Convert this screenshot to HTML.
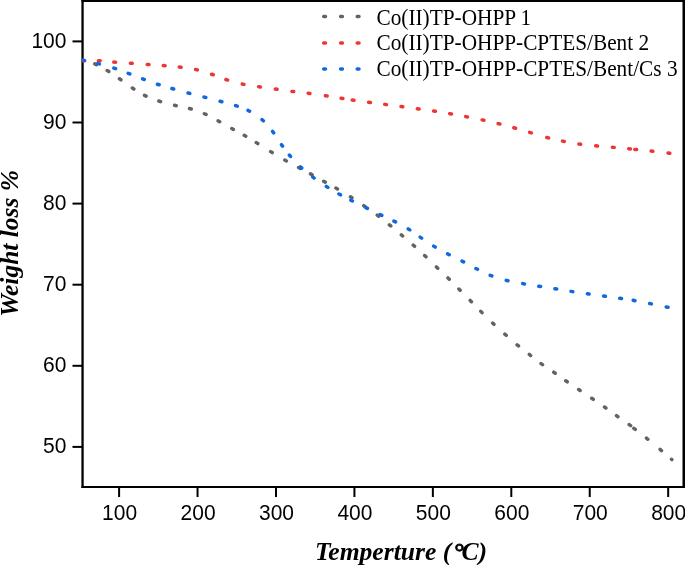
<!DOCTYPE html>
<html><head><meta charset="utf-8"><title>TGA</title>
<style>html,body{margin:0;padding:0;background:#fff;}svg{display:block;}.sans{font-family:"Liberation Sans",Arial,sans-serif;}.serif{font-family:"Liberation Serif","Times New Roman",serif;}</style></head>
<body><svg width="685" height="565" viewBox="0 0 685 565">
<rect width="685" height="565" fill="#fff"/>
<g stroke="#000" stroke-width="2" fill="none">
<path d="M82.55 0V488" stroke-width="2.3"/><path d="M81.5 487H685M81.5 1H685" stroke-width="2.1"/>
<path d="M684 0V488" stroke-width="3"/>
<path d="M119.10 487V497"/>
<path d="M197.54 487V497"/>
<path d="M275.98 487V497"/>
<path d="M354.42 487V497"/>
<path d="M432.86 487V497"/>
<path d="M511.30 487V497"/>
<path d="M589.74 487V497"/>
<path d="M668.18 487V497"/>
<path d="M72.5 41.40H82.5"/>
<path d="M72.5 122.50H82.5"/>
<path d="M72.5 203.60H82.5"/>
<path d="M72.5 284.70H82.5"/>
<path d="M72.5 365.80H82.5"/>
<path d="M72.5 446.90H82.5"/>
</g>
<g class="sans" font-size="21" fill="#000">
<text transform="translate(66.4 47.80) scale(1 1.07)" text-anchor="end">100</text>
<text transform="translate(66.4 128.90) scale(1 1.07)" text-anchor="end">90</text>
<text transform="translate(66.4 210.00) scale(1 1.07)" text-anchor="end">80</text>
<text transform="translate(66.4 291.10) scale(1 1.07)" text-anchor="end">70</text>
<text transform="translate(66.4 372.20) scale(1 1.07)" text-anchor="end">60</text>
<text transform="translate(66.4 453.30) scale(1 1.07)" text-anchor="end">50</text>
<text transform="translate(119.60 519.8) scale(1 1.07)" text-anchor="middle">100</text>
<text transform="translate(198.04 519.8) scale(1 1.07)" text-anchor="middle">200</text>
<text transform="translate(276.48 519.8) scale(1 1.07)" text-anchor="middle">300</text>
<text transform="translate(354.92 519.8) scale(1 1.07)" text-anchor="middle">400</text>
<text transform="translate(433.36 519.8) scale(1 1.07)" text-anchor="middle">500</text>
<text transform="translate(511.80 519.8) scale(1 1.07)" text-anchor="middle">600</text>
<text transform="translate(590.24 519.8) scale(1 1.07)" text-anchor="middle">700</text>
<text transform="translate(668.68 519.8) scale(1 1.07)" text-anchor="middle">800</text>
</g>
<text x="315" y="559.7" class="serif" font-size="25.6" font-weight="bold" font-style="italic">Temperture (<tspan dx="2" stroke="#000" stroke-width="0.7">°</tspan><tspan dx="-2">C</tspan>)</text>
<text transform="translate(17.5 316.8) rotate(-90)" x="0" y="0" class="serif" font-size="25.5" font-weight="bold" font-style="italic">Weight loss %</text>
<path d="M323.70 16.4H325.50M340.60 16.4H342.40M357.20 16.4H359.00" stroke="#636363" stroke-width="3.5" stroke-linecap="round"/>
<text transform="translate(376.5 24.60) scale(1 1.05)" class="serif" font-size="21.3">Co(II)TP-OHPP 1</text>
<path d="M323.70 42.9H325.50M340.60 42.9H342.40M357.20 42.9H359.00" stroke="#ee3535" stroke-width="3.5" stroke-linecap="round"/>
<text transform="translate(376.5 50.00) scale(1 1.05)" class="serif" font-size="21.3">Co(II)TP-OHPP-CPTES/Bent 2</text>
<path d="M323.70 69.0H325.50M340.60 69.0H342.40M357.20 69.0H359.00" stroke="#1068de" stroke-width="3.5" stroke-linecap="round"/>
<text transform="translate(376.5 75.90) scale(1 1.05)" class="serif" font-size="21.3">Co(II)TP-OHPP-CPTES/Bent/Cs 3</text>
<defs><clipPath id="pc"><rect x="81.8" y="0" width="603" height="487"/></clipPath></defs>
<g clip-path="url(#pc)">
<path d="M94.81 63.87L96.39 64.73M107.23 70.53L108.77 71.47M119.46 78.79L120.94 79.81M132.35 88.01L133.85 88.99M144.49 95.31L146.11 96.09M158.84 101.02L160.56 101.58M174.53 105.29L176.27 105.71M189.54 108.45L191.26 108.95M204.38 113.74L206.02 114.46M218.11 120.87L219.69 121.73M231.81 128.56L233.39 129.44M244.22 135.35L245.78 136.25M256.23 142.63L257.77 143.57M270.63 151.63L272.17 152.57M284.82 160.06L286.38 160.94M298.61 167.57L300.19 168.43M310.51 173.87L312.09 174.73M323.61 181.26L325.19 182.14M335.92 188.05L337.48 188.95M350.44 196.82L351.96 197.78M363.76 205.69L365.24 206.71M377.28 215.16L378.72 216.24M389.40 224.83L390.80 225.97M401.32 234.82L402.68 235.98M413.23 245.10L414.57 246.30M424.65 255.58L425.95 256.82M436.45 266.98L437.75 268.22M447.96 277.97L449.24 279.23M458.87 289.06L460.13 290.34M470.17 300.46L471.43 301.74M480.77 311.36L482.03 312.64M492.64 323.08L493.96 324.32M504.83 334.10L506.17 335.30M517.11 344.83L518.49 345.97M529.29 354.45L530.71 355.55M541.07 363.57L542.53 364.63M553.76 372.19L555.24 373.21M565.76 380.79L567.24 381.81M578.65 389.50L580.15 390.50M591.76 398.29L593.24 399.31M604.46 406.98L605.94 408.02M616.47 415.68L617.93 416.72M629.17 424.57L630.63 425.63M633.89 428.34L635.31 429.46M646.50 438.14L647.90 439.26M660.11 449.42L661.49 450.58M671.55 459.27L671.85 459.53" stroke="#636363" stroke-width="3.5" stroke-linecap="round" fill="none"/>
<path d="M82.90 60.70L84.70 60.70M98.40 60.66L100.20 60.74M113.80 62.03L115.60 62.17M130.40 63.24L132.20 63.36M147.20 64.44L149.00 64.56M163.30 65.53L165.10 65.67M179.31 66.99L181.09 67.21M195.62 69.50L197.38 69.90M211.55 74.22L213.25 74.78M225.94 79.53L227.66 80.07M242.22 84.01L243.98 84.39M258.61 86.67L260.39 86.93M275.31 88.97L277.09 89.23M291.91 91.39L293.69 91.61M308.11 93.18L309.89 93.42M325.41 95.76L327.19 96.04M341.11 98.26L342.89 98.54M352.21 99.97L353.99 100.23M368.61 102.28L370.39 102.52M384.71 104.38L386.49 104.62M401.01 106.48L402.79 106.72M417.31 108.77L419.09 109.03M433.61 111.07L435.39 111.33M449.71 113.65L451.49 113.95M465.72 116.63L467.48 116.97M482.12 119.91L483.88 120.29M498.13 123.58L499.87 124.02M513.83 127.76L515.57 128.24M529.64 132.35L531.36 132.85M546.83 137.47L548.57 137.93M562.52 141.12L564.28 141.48M578.91 144.08L580.69 144.32M595.70 145.82L597.50 145.98M612.40 147.22L614.20 147.38M628.70 148.71L630.50 148.89M634.81 149.40L636.59 149.60M651.11 151.10L652.89 151.30M668.01 153.00L669.79 153.20" stroke="#ee3535" stroke-width="3.5" stroke-linecap="round" fill="none"/>
<path d="M82.52 60.00L84.28 60.40M97.63 63.47L99.37 63.93M113.84 68.12L115.56 68.68M128.16 73.28L129.84 73.92M142.56 78.89L144.24 79.51M157.44 84.22L159.16 84.78M171.93 88.45L173.67 88.95M188.03 92.97L189.77 93.43M204.03 97.07L205.77 97.53M220.13 101.26L221.87 101.74M235.55 105.61L237.25 106.19M248.01 110.37L249.59 111.23M262.02 119.61L263.38 120.79M272.55 131.39L273.65 132.81M281.48 144.67L282.52 146.13M289.31 155.02L290.49 156.38M300.44 166.89L301.76 168.11M312.68 176.96L314.12 178.04M326.34 186.41L327.86 187.39M338.91 193.96L340.49 194.84M350.80 200.19L352.40 201.01M365.79 207.60L367.41 208.40M380.19 214.61L381.81 215.39M393.90 221.09L395.50 221.91M408.23 228.93L409.77 229.87M420.15 237.10L421.65 238.10M433.63 246.13L435.17 247.07M447.60 253.88L449.20 254.72M462.00 261.09L463.60 261.91M475.90 268.50L477.50 269.30M490.16 275.28L491.84 275.92M506.23 280.38L507.97 280.82M522.71 283.64L524.49 283.96M538.81 286.26L540.59 286.54M554.91 288.76L556.69 289.04M571.01 291.37L572.79 291.63M587.31 293.67L589.09 293.93M603.61 295.97L605.39 296.23M619.71 298.27L621.49 298.53M633.21 300.34L634.99 300.66M649.62 303.52L651.38 303.88M666.22 306.92L667.98 307.28" stroke="#1068de" stroke-width="3.5" stroke-linecap="round" fill="none"/>
</g>
</svg></body></html>
